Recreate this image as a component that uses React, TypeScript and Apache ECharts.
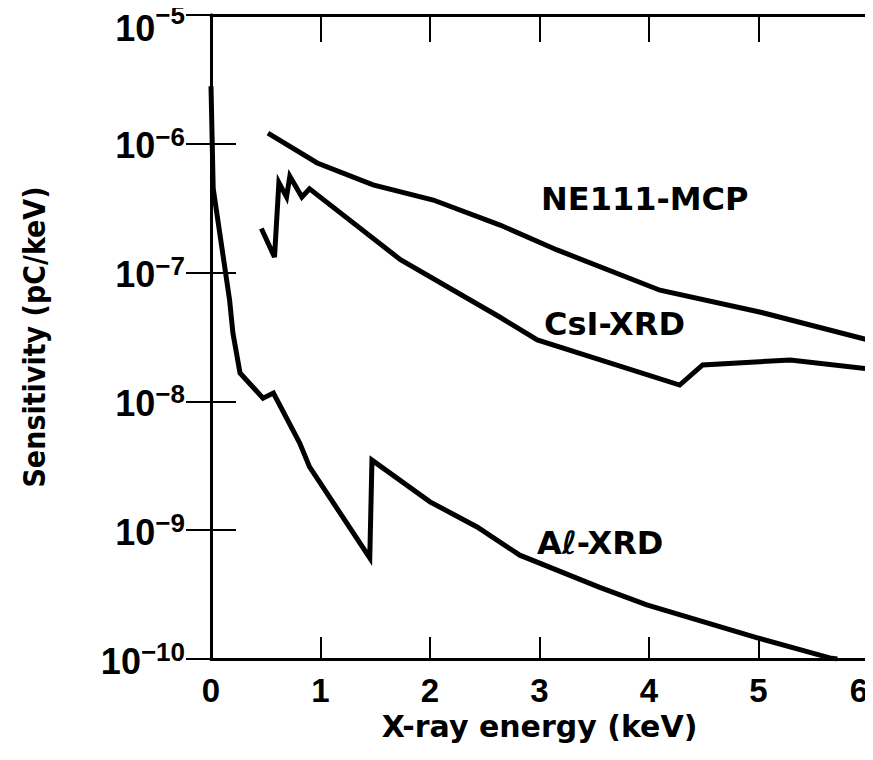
import React, { useEffect, useRef } from "react";
import * as echarts from "echarts";

const xTicks = [0, 1, 2, 3, 4, 5, 6];

const ne111Mcp: [number, number][] = [
  [0.52, 1.21e-6], [0.97, 7.1e-7], [1.48, 4.8e-7], [2.03, 3.66e-7], [2.64, 2.34e-7],
  [3.16, 1.5e-7], [4.1, 7.3e-8], [5.03, 4.9e-8], [6.0, 3.0e-8],
];

const csiXrd: [number, number][] = [
  [0.46, 2.2e-7], [0.58, 1.32e-7], [0.62, 5.0e-7], [0.69, 3.86e-7], [0.72, 5.6e-7],
  [0.83, 3.86e-7], [0.9, 4.47e-7], [1.73, 1.26e-7], [2.64, 4.5e-8], [2.98, 3.0e-8],
  [4.28, 1.34e-8], [4.49, 1.92e-8], [5.29, 2.1e-8], [6.0, 1.79e-8],
];

const alXrd: [number, number][] = [
  [0.0, 2.8e-6], [0.02, 4.5e-7], [0.17, 6.1e-8], [0.2, 3.4e-8], [0.265, 1.66e-8],
  [0.475, 1.06e-8], [0.57, 1.16e-8], [0.81, 4.75e-9], [0.9, 3.1e-9], [1.45, 6.1e-10],
  [1.47, 3.5e-9], [2.0, 1.66e-9], [2.43, 1.06e-9], [2.82, 6.4e-10], [3.55, 3.6e-10],
  [3.98, 2.63e-10], [4.99, 1.46e-10], [5.65, 1.02e-10], [5.72, 1.0e-10],
];

const seriesLabels = [
  { text: "NE111-MCP", x: 541, y: 199 },
  { text: "CsI-XRD", x: 544, y: 324 },
  { text: "A\u2113-XRD", x: 537, y: 543 },
];

const FONT = "'Liberation Sans', Arial, sans-serif";
const WIDE = "'DejaVu Sans', sans-serif";
const COND = "'DejaVu Sans Condensed', 'DejaVu Sans', sans-serif";

export default function App() {
  const ref = useRef<HTMLDivElement>(null);
  useEffect(() => {
    if (!ref.current) return;
    const chart = echarts.init(ref.current, undefined, { renderer: "svg" });
    const lineStyle = { color: "#000", width: 5, join: "miter" as const };
    const mk = (name: string, data: [number, number][]) => ({
      name,
      type: "line",
      data,
      showSymbol: false,
      symbol: "none",
      lineStyle,
      xAxisIndex: 0,
      yAxisIndex: 0,
      z: 3,
    });
    const bStyle = { fontFamily: FONT, fontWeight: "bold", fontSize: 36, color: "#000", lineHeight: 40, verticalAlign: "bottom" };
    const sStyle = { fontFamily: FONT, fontWeight: "bold", fontSize: 26, color: "#000", lineHeight: 40, verticalAlign: "top" };
    chart.setOption({
      animation: false,
      backgroundColor: "#fff",
      grid: { left: 211, right: 5, top: 15, bottom: 101, containLabel: false, outerBoundsMode: "none" },
      xAxis: [
        {
          type: "value",
          min: 0,
          max: 6,
          interval: 1,
          position: "bottom",
          name: "X-ray energy (keV)",
          nameLocation: "middle",
          nameGap: 48,
          nameTextStyle: { fontFamily: WIDE, fontWeight: "bold", fontSize: 30, color: "#000" },
          axisLine: { show: true, lineStyle: { color: "#000", width: 3 } },
          axisTick: { show: true, inside: true, length: 22, lineStyle: { color: "#000", width: 2 } },
          axisLabel: {
            fontFamily: FONT, fontWeight: "bold", fontSize: 33, color: "#000", margin: 15,
            alignMaxLabel: "right",
            formatter: (v: number) => (xTicks.includes(v) ? String(v) : ""),
          },
          splitLine: { show: false },
        },
        {
          type: "value",
          min: 0,
          max: 6,
          interval: 1,
          position: "top",
          axisLine: { show: true, lineStyle: { color: "#000", width: 3 } },
          axisTick: { show: true, inside: true, length: 27, lineStyle: { color: "#000", width: 2 } },
          axisLabel: { show: false },
          splitLine: { show: false },
        },
      ],
      yAxis: [
        {
          type: "log",
          logBase: 10,
          min: 1e-10,
          max: 1e-5,
          position: "left",
          name: "Sensitivity (pC/keV)",
          nameLocation: "middle",
          nameGap: 162,
          nameTextStyle: { fontFamily: COND, fontWeight: "bold", fontSize: 30, color: "#000" },
          axisLine: { show: true, lineStyle: { color: "#000", width: 3 } },
          axisTick: { show: true, inside: true, length: 25, lineStyle: { color: "#000", width: 2 } },
          axisLabel: {
            margin: 26,
            formatter: (v: number) => {
              const e = Math.round(Math.log10(v));
              if (e === -5) return `{bt|10}{st|\u2212${-e}}`;
              return `{b|10}{s|\u2212${-e}}`;
            },
            rich: {
              b: bStyle,
              s: sStyle,
              bt: { ...bStyle, lineHeight: 62 },
              st: { ...sStyle, lineHeight: 26, verticalAlign: "middle" },
            },
          },
          splitLine: { show: false },
        },
        {
          type: "log",
          logBase: 10,
          min: 1e-10,
          max: 1e-5,
          position: "right",
          axisLine: { show: true, lineStyle: { color: "#000", width: 3 } },
          axisTick: { show: true, inside: true, length: 25, lineStyle: { color: "#000", width: 2 } },
          axisLabel: { show: false },
          splitLine: { show: false },
        },
      ],
      graphic: seriesLabels.map((l) => ({
        type: "text",
        x: l.x,
        y: l.y,
        style: {
          text: l.text,
          fontFamily: WIDE,
          fontWeight: "bold",
          fontSize: 32,
          fill: "#000",
          verticalAlign: "middle",
          align: "left",
        },
        z: 10,
      })),
      series: [mk("NE111-MCP", ne111Mcp), mk("CsI-XRD", csiXrd), mk("Al-XRD", alXrd)],
    });
    return () => chart.dispose();
  }, []);
  return <div ref={ref} style={{ width: 873, height: 760, margin: -8 }} />;
}
